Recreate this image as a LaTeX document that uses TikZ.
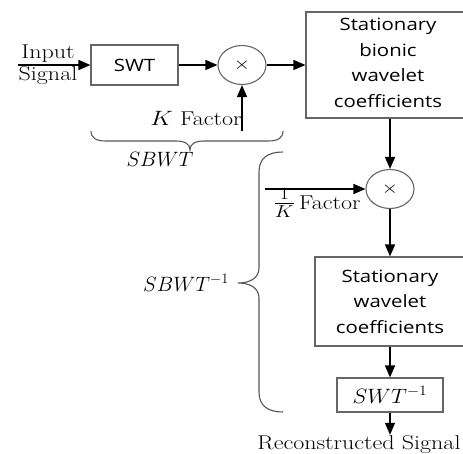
\documentclass[tikz,border=0pt]{standalone}
\usepackage{fontspec}
\usepackage{graphicx}
\newfontfamily\boxfont{Open Sans}
\usetikzlibrary{arrows.meta,shapes.geometric}
\newcommand\hs[1]{\scalebox{1.2}[1]{#1}}
\newcommand\hm[1]{\scalebox{1.08}[1]{#1}}
\definecolor{boxgray}{HTML}{666666}
\definecolor{bracegray}{HTML}{555555}
\begin{document}
\begin{tikzpicture}[x=1pt,y=-1pt,
  blk/.style={draw=boxgray, line width=1.1pt, inner sep=0pt, align=center,
    font=\boxfont\fontsize{17}{25.5}\selectfont},
  mult/.style={draw=boxgray, line width=1.1pt, ellipse, minimum width=48pt, minimum height=39pt, inner sep=0pt,
    font=\fontsize{18}{18}\selectfont},
  lbl/.style={inner sep=1pt, align=center, font=\fontsize{20}{22}\selectfont},
  mlbl/.style={inner sep=1pt, font=\fontsize{20.74}{22}\selectfont},
  flow/.style={line width=1.5pt, -{Triangle[length=12pt,width=10pt]}},
  brc/.style={draw=bracegray, line width=1.1pt}
]
\useasboundingbox (0,0) rectangle (463,454);
\clip (0,0) rectangle (463,454);
\fill[white] (0,0) rectangle (463,454);

% blocks
\node[blk, minimum width=87pt, minimum height=40pt] (swt) at (134.5,65) {\hs{SWT}};
\node[mult] (m1) at (242,65) {\hs{$\times$}};
\node[blk, minimum width=164pt, minimum height=106pt] (box1) at (388,65)
  {\hs{Stationary}\\\hs{bionic}\\\hs{wavelet}\\\hs{coefficients}\rule[-4pt]{0pt}{1pt}};
\node[mult] (m2) at (390,189) {\hs{$\times$}};
\node[blk, minimum width=150pt, minimum height=89pt] (box2) at (390,301.5)
  {\hs{Stationary}\\\hs{wavelet}\\\hs{coefficients}};
\node[blk, minimum width=106pt, minimum height=34pt, font=\fontsize{20}{22}\selectfont] (swtinv) at (390,395) {\hm{$SWT^{-1}$}};

% labels
\node[lbl] (inlbl) at (48,65) {\hs{Input}\\\hs{Signal}};
\node[lbl] (klbl) at (196,118) {\hs{$K$ Factor}};
\node[lbl] (kinvlbl) at (317,203) {\hs{{\fontsize{25}{25}\selectfont$\frac{1}{K}$}\,Factor}};
\node[lbl] (rec) at (359,445) {\hs{Reconstructed Signal}};
\node[mlbl] (sbwt) at (160,159) {$SBWT$};
\node[mlbl] (sbwtinv) at (186,283) {$SBWT^{-1}$};

% free ends
\coordinate (inS) at (18,65);
\coordinate (kin) at (242,131);
\coordinate (kinv) at (265,189);

% connectors
\draw[flow] (inS) -- (swt.west);
\draw[flow] (swt.east) -- (m1.west);
\draw[flow] (m1.east) -- (box1.west);
\draw[flow] (kin) -- (m1.south);
\draw[flow] (m2.north |- box1.south) -- (m2.north);
\draw[flow] (kinv) -- (m2.west);
\draw[flow] (m2.south) -- (m2.south |- box2.north);
\draw[flow] (swtinv.north |- box2.south) -- (swtinv.north);
\draw[flow] (swtinv.south) -- (swtinv.south |- rec.north);

% braces
\draw[brc] (91,131) .. controls (91,138) and (96,141) .. (106,141) -- (176,141)
  .. controls (185,141) and (190,144) .. (190,150)
  .. controls (190,144) and (195,141) .. (204,141) -- (268,141)
  .. controls (278,141) and (283,138) .. (283,131);
\draw[brc] (283,152) .. controls (268,152) and (259,158) .. (259,172) -- (259,268)
  .. controls (259,278) and (250,283) .. (238,283)
  .. controls (250,283) and (259,288) .. (259,298) -- (259,392)
  .. controls (259,406) and (268,412) .. (283,412);
\end{tikzpicture}
\end{document}
